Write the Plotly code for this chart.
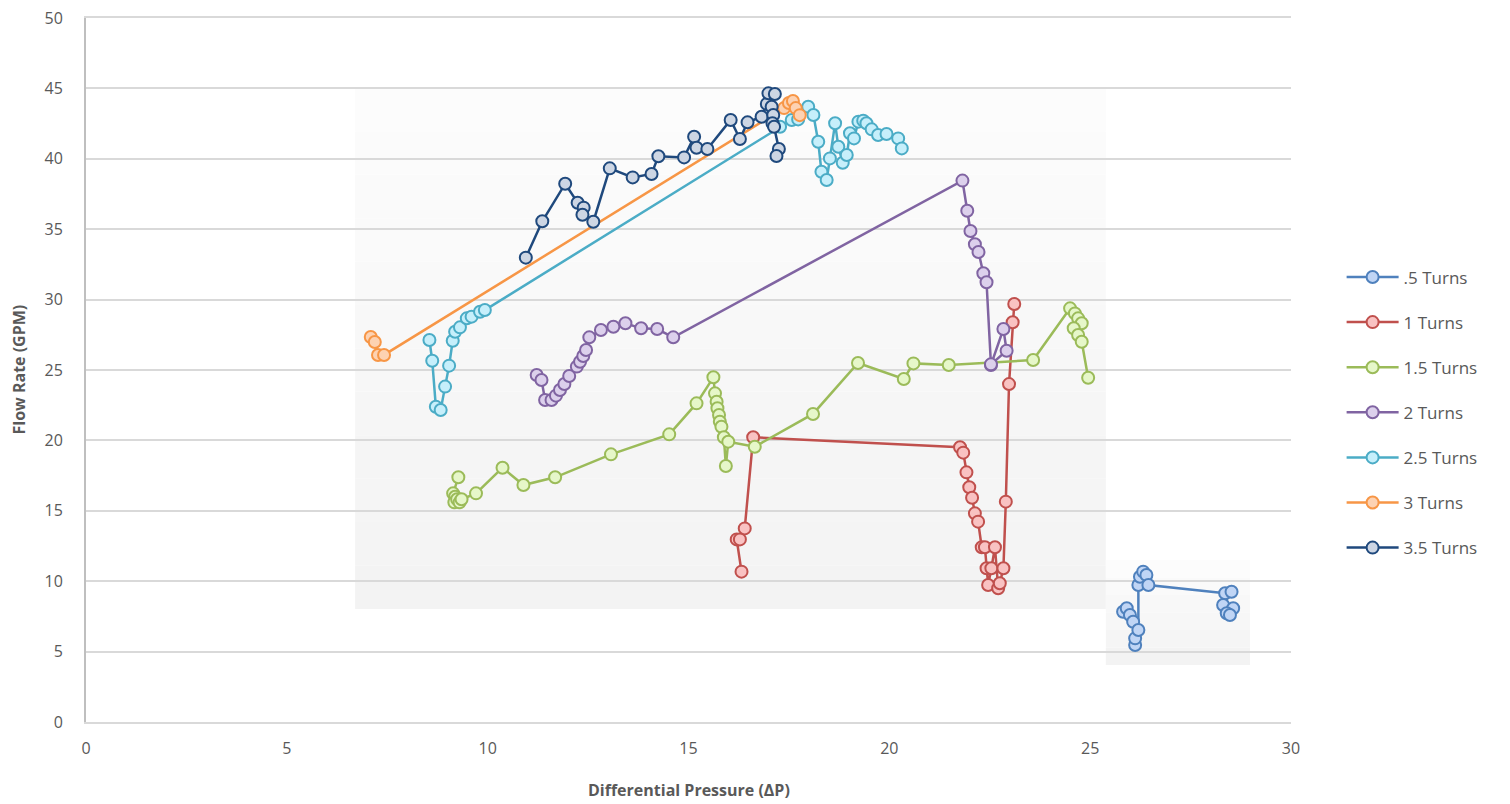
import plotly.graph_objects as go

# ---- data (Differential Pressure, Flow Rate) ----
x_05 = [25.82, 25.91, 25.99, 26.07, 26.12, 26.12, 26.20, 26.20, 26.24, 26.32, 26.40, 26.45, 28.36, 28.52, 28.31, 28.56, 28.40, 28.48]
y_05 = [7.83, 8.08, 7.60, 7.12, 5.47, 5.94, 6.53, 9.73, 10.32, 10.68, 10.44, 9.73, 9.14, 9.25, 8.31, 8.08, 7.72, 7.60]

x_10 = [16.32, 16.20, 16.28, 16.40, 16.61, 21.76, 21.84, 21.92, 21.99, 22.06, 22.13, 22.21, 22.30, 22.38, 22.42, 22.46, 22.54, 22.63, 22.71, 22.75, 22.84, 22.90, 22.98, 23.07, 23.11]
y_10 = [10.68, 12.97, 12.97, 13.75, 20.22, 19.51, 19.13, 17.73, 16.67, 15.93, 14.82, 14.23, 12.41, 12.41, 10.92, 9.73, 10.92, 12.41, 9.50, 9.85, 10.92, 15.65, 24.00, 28.39, 29.69]

x_15 = [9.27, 9.14, 9.19, 9.17, 9.24, 9.30, 9.35, 9.71, 10.37, 10.89, 11.68, 13.07, 14.52, 15.20, 15.62, 15.66, 15.70, 15.72, 15.76, 15.78, 15.82, 15.88, 15.93, 15.99, 16.65, 18.10, 19.22, 20.36, 20.60, 21.48, 23.58, 24.50, 24.62, 24.70, 24.79, 24.59, 24.70, 24.79, 24.95]
y_15 = [17.38, 16.24, 16.00, 15.60, 15.82, 15.60, 15.82, 16.24, 18.06, 16.83, 17.38, 19.01, 20.43, 22.63, 24.48, 23.34, 22.75, 22.28, 21.80, 21.33, 20.97, 20.22, 18.18, 19.91, 19.55, 21.88, 25.50, 24.36, 25.47, 25.36, 25.71, 29.38, 29.02, 28.67, 28.32, 27.96, 27.49, 27.01, 24.45]

x_20 = [11.22, 11.34, 11.43, 11.59, 11.70, 11.80, 11.91, 12.03, 12.22, 12.30, 12.38, 12.45, 12.53, 12.82, 13.13, 13.43, 13.82, 14.22, 14.62, 21.82, 21.94, 22.02, 22.13, 22.22, 22.34, 22.42, 22.53, 22.84, 22.92, 22.53]
y_20 = [24.64, 24.29, 22.87, 22.87, 23.18, 23.58, 24.01, 24.57, 25.24, 25.59, 25.99, 26.42, 27.32, 27.84, 28.07, 28.32, 27.96, 27.91, 27.32, 38.45, 36.31, 34.87, 33.93, 33.38, 31.87, 31.23, 25.36, 27.91, 26.37, 25.40]

x_25 = [8.55, 8.62, 8.71, 8.83, 8.94, 9.04, 9.13, 9.19, 9.31, 9.48, 9.60, 9.81, 9.93, 17.28, 17.57, 17.73, 17.98, 18.11, 18.23, 18.31, 18.44, 18.52, 18.65, 18.73, 18.84, 18.94, 19.02, 19.12, 19.23, 19.35, 19.43, 19.56, 19.72, 19.93, 20.22, 20.31]
y_25 = [27.13, 25.66, 22.39, 22.16, 23.82, 25.31, 27.08, 27.72, 28.03, 28.67, 28.79, 29.14, 29.26, 42.28, 42.76, 42.80, 43.70, 43.11, 41.21, 39.08, 38.49, 40.03, 42.52, 40.86, 39.72, 40.27, 41.81, 41.45, 42.64, 42.71, 42.52, 42.09, 41.69, 41.76, 41.45, 40.74]

x_30 = [7.09, 7.19, 7.27, 7.42, 17.38, 17.50, 17.60, 17.67, 17.77]
y_30 = [27.34, 26.99, 26.07, 26.07, 43.60, 43.96, 44.10, 43.60, 43.10]

x_35 = [10.95, 11.36, 11.93, 12.24, 12.39, 12.36, 12.63, 13.04, 13.61, 14.08, 14.25, 14.89, 15.14, 15.20, 15.47, 16.05, 16.28, 16.47, 16.82, 16.95, 16.99, 17.15, 17.07, 17.11, 17.09, 17.13, 17.25, 17.19]
y_35 = [32.98, 35.56, 38.23, 36.88, 36.53, 36.03, 35.53, 39.32, 38.68, 38.92, 40.18, 40.10, 41.57, 40.79, 40.70, 42.76, 41.41, 42.59, 42.99, 43.90, 44.65, 44.60, 43.70, 43.11, 42.52, 42.28, 40.70, 40.20]

names = [".5 Turns", "1 Turns", "1.5 Turns", "2 Turns", "2.5 Turns", "3 Turns", "3.5 Turns"]
xs = [x_05, x_10, x_15, x_20, x_25, x_30, x_35]
ys = [y_05, y_10, y_15, y_20, y_25, y_30, y_35]
line_colors = ["#4F81BD", "#C0504D", "#9BBB59", "#8064A2", "#4BACC6", "#F79646", "#1F497D"]
fill_colors = ["#c0d5f5", "#f9c2c2", "#e6f7c9", "#dcd0ec", "#c6effb", "#fdd2b2", "#cdd6e4"]

x_ticks = [0, 5, 10, 15, 20, 25, 30]
y_ticks = [0, 5, 10, 15, 20, 25, 30, 35, 40, 45, 50]

fig = go.Figure()
for i in range(len(names)):
    fig.add_trace(go.Scatter(
        x=xs[i], y=ys[i], name=names[i], mode="lines+markers",
        legendgroup=names[i],
        line=dict(color=line_colors[i], width=2.5),
        marker=dict(symbol="circle", size=12, color=fill_colors[i],
                    line=dict(color=line_colors[i], width=2)),
    ))

# faint gradient backdrops
def gradient_rect(x0, x1, y0, y1, n=12):
    shapes = []
    h = (y1 - y0) / n
    for k in range(n):
        t = k / (n - 1)
        v = int(round(252 - 9 * (1 - t)))
        shapes.append(dict(type="rect", xref="x", yref="y", layer="below",
                           x0=x0, x1=x1, y0=y0 + k * h, y1=y0 + (k + 1) * h,
                           fillcolor=f"rgb({v},{v},{v})", line=dict(width=0)))
    return shapes

shapes = gradient_rect(6.70, 25.39, 8.03, 45.03) + gradient_rect(25.39, 28.98, 4.05, 11.5, n=6)

fig.update_layout(
    width=1510, height=804,
    margin=dict(l=78, r=227, t=10, b=90),
    paper_bgcolor="white", plot_bgcolor="white",
    font=dict(family="Open Sans, Liberation Sans, sans-serif", color="#595959", size=15),
    shapes=shapes,
    showlegend=True,
    legend=dict(x=1.042, y=0.657, xanchor="left", yanchor="top",
                font=dict(size=17, color="#595959"), tracegroupgap=20,
                itemwidth=52, bgcolor="rgba(0,0,0,0)"),
    xaxis=dict(range=[0, 30], tickvals=x_ticks, showgrid=False, zeroline=False,
               showline=True, mirror=True, linecolor="#d9d9d9", linewidth=1.5,
               ticks="", automargin=False, ticklabelstandoff=11,
               ticklabeloverflow="allow",
               tickfont=dict(size=16, color="#595959")),
    yaxis=dict(range=[0, 50], tickvals=y_ticks, showgrid=True, gridcolor="#d9d9d9",
               gridwidth=1.5, zeroline=False, showline=True, linecolor="#bfbfbf",
               linewidth=2, ticks="", automargin=False, ticklabelstandoff=18,
               ticklabeloverflow="allow",
               tickfont=dict(size=16, color="#595959")),
    annotations=[
        dict(text="<b>Differential Pressure (ΔP)</b>", xref="paper", yref="paper",
             x=0.5, y=-0.097, xanchor="center", yanchor="middle", showarrow=False,
             font=dict(size=16, color="#595959")),
        dict(text="<b>Flow Rate (GPM)</b>", xref="paper", yref="paper",
             x=-0.056, y=0.5, xanchor="center", yanchor="middle", showarrow=False,
             textangle=-90, font=dict(size=16, color="#595959")),
    ],
)

fig.write_html("out.html")
